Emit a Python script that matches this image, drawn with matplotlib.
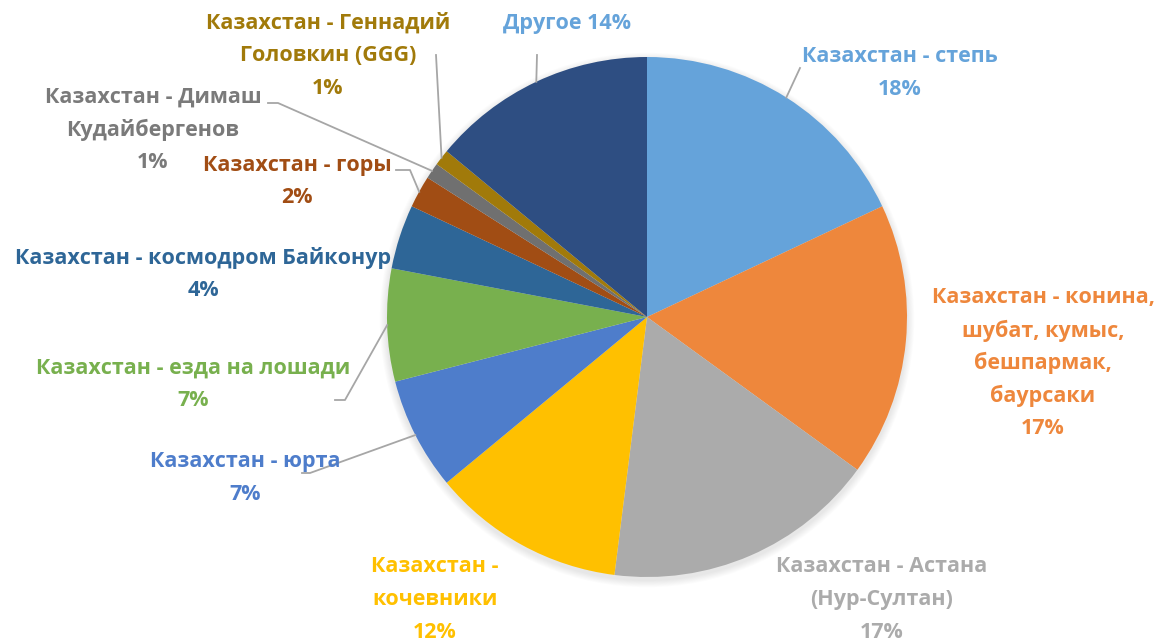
import numpy as np
import matplotlib
matplotlib.use("Agg")
import matplotlib.pyplot as plt
from matplotlib.patches import Circle

labels = [
    "Казахстан - степь",
    "Казахстан - конина,\nшубат, кумыс,\nбешпармак,\nбаурсаки",
    "Казахстан - Астана\n(Нур-Султан)",
    "Казахстан -\nкочевники",
    "Казахстан - юрта",
    "Казахстан - езда на лошади",
    "Казахстан - космодром Байконур",
    "Казахстан - горы",
    "Казахстан - Димаш\nКудайбергенов",
    "Казахстан - Геннадий\nГоловкин (GGG)",
    "Другое",
]
shares = [18, 17, 17, 12, 7, 7, 4, 2, 1, 1, 14]
colors = ["#65A3DA", "#EE873C", "#ABABAB", "#FFC000", "#4E7DCB", "#78B04E",
          "#2E6697", "#A14D14", "#707070", "#A17A0A", "#2E4E82"]
text_colors = ["#65A3DA", "#EE873C", "#ABABAB", "#FFC000", "#4E7DCB", "#78B04E",
               "#2E6697", "#A14D14", "#7A7A7A", "#A17A0A", "#65A3DA"]

W, H = 1156, 641
fig = plt.figure(figsize=(W / 100, H / 100), dpi=100)
ax = fig.add_axes([0, 0, 1, 1])

cx, cy, R = 647, H - 317, 260

# soft drop shadow under the pie
for k in range(8):
    ax.add_patch(Circle((cx, cy - 3), R + 1 + k * 0.9, color="black",
                        alpha=0.012, lw=0, zorder=0))

wedges, _ = ax.pie(shares, colors=colors, startangle=90, counterclock=False,
                   center=(cx, cy), radius=R, frame=True,
                   wedgeprops=dict(linewidth=0))
ax.set_xlim(0, W)
ax.set_ylim(0, H)
ax.set_aspect("equal")
ax.axis("off")

# label anchor (x, y of first line in px from top) and leader-line path
layout = [
    (900, 57, [(800, 68)]),
    (1043, 298, None),
    (882, 567, None),
    (435, 567, None),
    (245, 462, [(310, 473), (302, 473)]),
    (193, 368, [(345, 400), (335, 400)]),
    (203, 258, None),
    (297, 165, [(410, 170), (396, 170)]),
    (153, 97, [(278, 103), (268, 103)]),
    (328, 23, [(436, 55)]),
    (567, 23, [(537, 55)]),
]

font = dict(family=["Open Sans", "DejaVu Sans"], fontweight="bold", fontsize=15.5)
line_h = 32.5

for w, lab, val, tc, (lx, ly, path) in zip(wedges, labels, shares, text_colors, layout):
    if lab == "Другое":
        txt = f"{lab} {val}%"
    else:
        txt = f"{lab}\n{val}%"
    for i, ln in enumerate(txt.split("\n")):
        ax.text(lx, H - (ly + i * line_h), ln, color=tc, ha="center",
                va="center", zorder=4, **font)
    if path:
        mid = np.deg2rad((w.theta1 + w.theta2) / 2)
        px = [cx + R * np.cos(mid)] + [p[0] for p in path]
        py = [cy + R * np.sin(mid)] + [H - p[1] for p in path]
        ax.plot(px, py, color="#A6A6A6", lw=1.3, zorder=3)

fig.savefig("out.png", dpi=100, facecolor="white")
